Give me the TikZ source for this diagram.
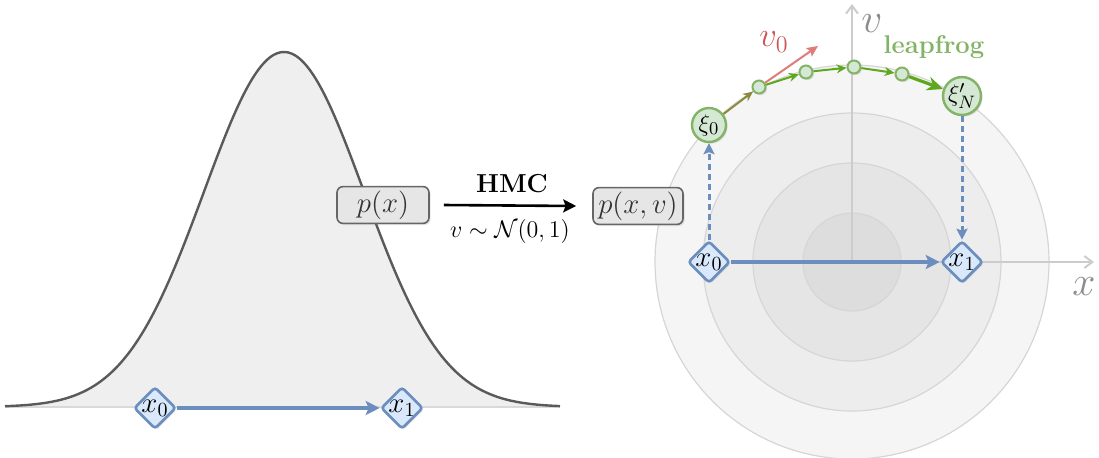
\documentclass[tikz,border=0pt]{standalone}
\usetikzlibrary{arrows.meta,shapes.geometric,shadows,calc}
\definecolor{bluefill}{HTML}{DAE8FC}
\definecolor{blueline}{HTML}{6C8EBF}
\definecolor{greenfill}{HTML}{D5E8D4}
\definecolor{greenline}{HTML}{82B366}
\definecolor{greenarrow}{HTML}{5FA81E}
\definecolor{olivearrow}{HTML}{8A8A3C}
\definecolor{redarrow}{HTML}{E07B7B}
\definecolor{redtext}{HTML}{CC5555}
\definecolor{boxfill}{HTML}{E6E6E6}
\definecolor{boxline}{HTML}{666666}
\definecolor{curve}{HTML}{5A5A5A}
\definecolor{gfill}{HTML}{EFEFEF}
\definecolor{axisgray}{HTML}{CCCCCC}
\definecolor{ringA}{HTML}{F5F5F5}
\definecolor{ringB}{HTML}{EDEDED}
\definecolor{ringC}{HTML}{E5E5E5}
\definecolor{ringD}{HTML}{DDDDDD}
\definecolor{ringline}{HTML}{D6D6D6}
\tikzset{
  shad/.style={drop shadow={opacity=0.22, shadow xshift=0.8pt, shadow yshift=-0.8pt}},
  dia/.style={diamond, draw=blueline, fill=bluefill, line width=1.3pt, minimum size=21pt,
    inner sep=0pt, rounded corners=1.5pt, shad},
  dialab/.style={font=\fontsize{14}{16}\selectfont, inner sep=0pt},
  pbox/.style={rectangle, rounded corners=3pt, draw=boxline, fill=boxfill, line width=0.8pt,
    minimum width=45pt, minimum height=18pt, inner sep=2pt, shad, text=black!80},
  xinode/.style={circle, draw=greenline, fill=greenfill, line width=1.2pt, minimum size=17pt,
    inner sep=0pt, shad, font=\fontsize{12.5}{14}\selectfont},
  dotnode/.style={circle, draw=greenline, fill=greenfill, line width=1pt, minimum size=6.5pt,
    inner sep=0pt, shad},
  bluearrow/.style={draw=blueline, line width=2pt, -{Stealth[length=7pt,width=7pt,inset=1.5pt]}},
  bluedash/.style={draw=blueline, line width=1.5pt, dash pattern=on 3pt off 2pt,
    -{Stealth[length=5.5pt,width=5.5pt,inset=1pt]}},
  greenarr/.style={draw=greenarrow, line width=1pt, -{Stealth[length=5pt,width=4.5pt]}},
  axisline/.style={draw=axisgray, line width=1pt, -{Straight Barb[length=4pt,width=6pt]}},
}
\begin{document}
\begin{tikzpicture}[x=0.5pt,y=-0.5pt]
\useasboundingbox (0,0) rectangle (1099,457);
% ---------------- left: gaussian ----------------
\fill[gfill] (5,407) -- plot[domain=5:560, samples=150, smooth] (\x, {407-355*exp(-((\x-284)/80)*((\x-284)/80)/2)}) -- (560,407) -- cycle;
\draw[black!15, line width=0.8pt] (5,407) -- (560,407);
\draw[curve, line width=1.2pt] plot[domain=5:560, samples=150, smooth] (\x, {407-355*exp(-((\x-284)/80)*((\x-284)/80)/2)});
\node[pbox, minimum width=46pt, font=\fontsize{14}{16}\selectfont] (px) at (383,205) {$p(x)$};
\node[dia, label={[dialab]center:$x_0$}] (lx0) at (155,408) {};
\node[dia, label={[dialab]center:$x_1$}] (lx1) at (402,408) {};
\draw[bluearrow] (lx0) -- (lx1);
% ---------------- right: phase space ----------------
\coordinate (C) at (852,262);
\filldraw[fill=ringA, draw=ringline, line width=0.6pt] (C) circle[radius=98.5pt];
\filldraw[fill=ringB, draw=ringline, line width=0.6pt] (C) circle[radius=74.5pt];
\filldraw[fill=ringC, draw=ringline, line width=0.6pt] (C) circle[radius=49.5pt];
\filldraw[fill=ringD, draw=ringline, line width=0.6pt] (C) circle[radius=24.5pt];
\coordinate (vtop) at (852,4);
\coordinate (xend) at (1094,262);
\draw[axisline] (C) -- (vtop);
\draw[axisline] (C) -- (xend);
\node[font=\fontsize{20}{22}\selectfont, text=black!45, inner sep=1pt] (vlab) at (872,24) {$v$};
\node[font=\fontsize{20}{22}\selectfont, text=black!45] (xlab) at (1084,287) {$x$};
% ---------------- middle: HMC ----------------
\node[pbox, minimum width=45pt, font=\fontsize{14}{16}\selectfont] (pxv) at (638,206) {$p(x,v)$};
\draw[black, line width=1.3pt, -{Stealth[length=6.5pt,width=6.5pt,inset=1.2pt]}] ([xshift=7pt]px.east) -- ([xshift=-8pt]pxv.west);
\node[font=\bfseries\fontsize{13}{15}\selectfont] (hmc) at (512,184) {HMC};
\node[font=\fontsize{12}{14}\selectfont] (dist) at (510,231) {$v\sim\mathcal{N}(0,1)$};
% leapfrog path
\node[xinode] (xi0) at (709,125) {$\xi_0$};
\node[dotnode] (s1) at (759,87) {};
\node[dotnode] (s2) at (806,72) {};
\node[dotnode] (s3) at (854,67) {};
\node[dotnode] (s4) at (902,74) {};
\node[xinode] (xiN) at (962,96) {$\xi'_N$};
\coordinate (v0tip) at (818,46);
\draw[draw=redarrow, line width=1pt, -{Stealth[length=5.5pt,width=5pt,inset=1pt]}] (s1) -- (v0tip);
\node[font=\fontsize{16.5}{18}\selectfont, text=redtext] (v0lab) at (774,42) {$v_0$};
\draw[greenarr, draw=olivearrow] (xi0) -- (s1);
\draw[greenarr] (s1) -- (s2);
\draw[greenarr] (s2) -- (s3);
\draw[greenarr] (s3) -- (s4);
\draw[draw=greenarrow, line width=1.6pt, -{Stealth[length=8pt,width=7pt]}] (s4) -- (xiN);
\node[font=\bfseries\fontsize{12.8}{14}\selectfont, text=greenline] (leap) at (934,47) {leapfrog};
% x nodes on axis
\node[dia, label={[dialab]center:$x_0$}] (rx0) at (709,262) {};
\node[dia, label={[dialab]center:$x_1$}] (rx1) at (962,262) {};
\draw[bluedash] (rx0) -- (xi0);
\draw[bluedash] (xiN) -- (rx1);
\draw[bluearrow] (rx0) -- (rx1);
\end{tikzpicture}
\end{document}
